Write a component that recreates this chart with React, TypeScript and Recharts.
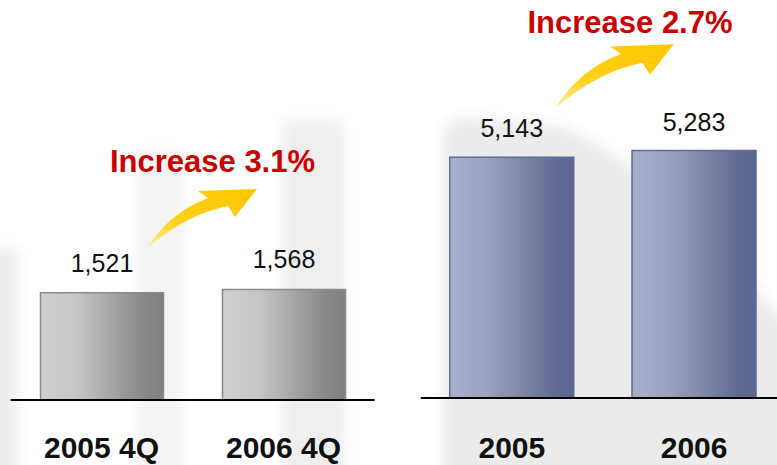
import React from "react";
import { BarChart, Bar, XAxis, YAxis, LabelList } from "recharts";

const quarterLabels = ["2005 4Q", "2006 4Q"];
const quarterValues = [1521, 1568];
const yearLabels = ["2005", "2006"];
const yearValues = [5143, 5283];
const growthLabels = ["Increase 3.1%", "Increase 2.7%"];

const FONT = "'Liberation Sans', Arial, Helvetica, sans-serif";

const quarterData = quarterLabels.map((name, i) => ({ name, value: quarterValues[i] }));
const yearData = yearLabels.map((name, i) => ({ name, value: yearValues[i] }));

const fmt = (v: number) => v.toLocaleString("en-US");

function CategoryTick({ x, y, payload, dy }: any) {
  return (
    <text
      x={x}
      y={y}
      dy={dy}
      textAnchor="middle"
      fontFamily={FONT}
      fontWeight="bold"
      fontSize={30}
      fill="#111"
    >
      {payload.value}
    </text>
  );
}

// curved growth arrow, tail at 0,0
const arrowPath =
  "M0,0 Q23,-36 61,-50 L51,-57 L110,-59 L88,-31 L81,-42 Q40,-34 0,0 Z";

export default function App() {
  return (
    <div
      style={{
        position: "absolute",
        left: 0,
        top: 0,
        width: 777,
        height: 465,
        overflow: "hidden",
        background: "#fff",
      }}
    >
      {/* faint ghost columns in the background */}
      <svg width={777} height={465} style={{ position: "absolute", left: 0, top: 0 }}>
        <defs>
          <filter id="soft" x="-50%" y="-50%" width="200%" height="200%">
            <feGaussianBlur stdDeviation="7" />
          </filter>
        </defs>
        <g filter="url(#soft)">
          <rect x={-10} y={248} width={28} height={240} fill="#ececec" />
          <rect x={135} y={150} width={50} height={330} fill="#f4f4f4" />
          <rect x={282} y={120} width={62} height={360} fill="#eeeeee" />
          <path
            d="M443,132 Q445,118 470,118 L560,126 Q660,165 790,330 L790,480 L443,480 Z"
            fill="#ebebeb"
          />
        </g>
      </svg>

      <div style={{ position: "absolute", left: 0, top: 0 }}>
        <BarChart
          width={385}
          height={465}
          data={quarterData}
          margin={{ top: 259, right: 10.5, left: 10.5, bottom: 0 }}
        >
          <defs>
            <linearGradient id="grayBar" x1="0" y1="0" x2="1" y2="0">
              <stop offset="0%" stopColor="#d0d0d0" />
              <stop offset="30%" stopColor="#c6c6c6" />
              <stop offset="62%" stopColor="#a0a0a0" />
              <stop offset="85%" stopColor="#878787" />
              <stop offset="100%" stopColor="#808080" />
            </linearGradient>
          </defs>
          <XAxis
            dataKey="name"
            height={65}
            tickLine={false}
            tickSize={0}
            tickMargin={0}
            axisLine={{ stroke: "#000", strokeWidth: 2 }}
            tick={<CategoryTick dy={58} />}
          />
          <YAxis hide domain={[0, 2000]} />
          <Bar
            dataKey="value"
            barSize={123}
            fill="url(#grayBar)"
            stroke="#8a8a8a"
            strokeWidth={1.5}
            isAnimationActive={false}
          >
            <LabelList
              dataKey="value"
              position="top"
              offset={21}
              formatter={fmt}
              style={{ fontFamily: FONT, fontSize: 25, fill: "#111" }}
            />
          </Bar>
        </BarChart>
      </div>

      <div style={{ position: "absolute", left: 400, top: 0 }}>
        <BarChart
          width={400}
          height={465}
          data={yearData}
          margin={{ top: 117, right: 14.75, left: 20.75, bottom: 0 }}
        >
          <defs>
            <linearGradient id="blueBar" x1="0" y1="0" x2="1" y2="0">
              <stop offset="0%" stopColor="#a9afca" />
              <stop offset="30%" stopColor="#9ca2bf" />
              <stop offset="65%" stopColor="#76809f" />
              <stop offset="85%" stopColor="#616c95" />
              <stop offset="100%" stopColor="#5b6792" />
            </linearGradient>
          </defs>
          <XAxis
            dataKey="name"
            height={67}
            tickLine={false}
            tickSize={0}
            tickMargin={0}
            axisLine={{ stroke: "#000", strokeWidth: 2 }}
            tick={<CategoryTick dy={60} />}
          />
          <YAxis hide domain={[0, 6000]} />
          <Bar
            dataKey="value"
            barSize={124}
            fill="url(#blueBar)"
            stroke="#5e6b9b"
            strokeWidth={1.5}
            isAnimationActive={false}
          >
            <LabelList
              dataKey="value"
              position="top"
              offset={20}
              formatter={fmt}
              style={{ fontFamily: FONT, fontSize: 25, fill: "#111" }}
            />
          </Bar>
        </BarChart>
      </div>

      {/* growth annotations */}
      <svg width={777} height={465} style={{ position: "absolute", left: 0, top: 0 }}>
        <defs>
          <linearGradient id="arrowFill" x1="0" y1="1" x2="1" y2="0">
            <stop offset="0%" stopColor="#fff1a8" />
            <stop offset="35%" stopColor="#ffd21a" />
            <stop offset="100%" stopColor="#ffc600" />
          </linearGradient>
        </defs>
        <path d={arrowPath} fill="url(#arrowFill)" transform="translate(147,248)" />
        <path d={arrowPath} fill="url(#arrowFill)" transform="translate(555,108) scale(1.08)" />
        <text
          x={212.5}
          y={172}
          textAnchor="middle"
          fontFamily={FONT}
          fontWeight="bold"
          fontSize={31}
          fill="#cc0000"
        >
          {growthLabels[0]}
        </text>
        <text
          x={630}
          y={33}
          textAnchor="middle"
          fontFamily={FONT}
          fontWeight="bold"
          fontSize={31}
          fill="#cc0000"
        >
          {growthLabels[1]}
        </text>
      </svg>
    </div>
  );
}
